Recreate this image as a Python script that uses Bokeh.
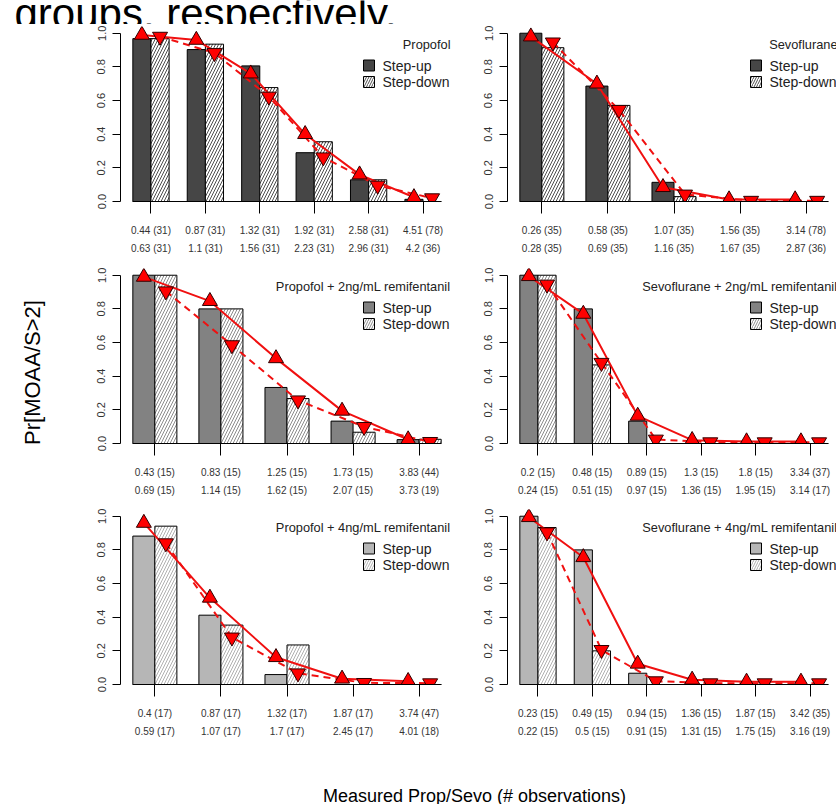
from bokeh.plotting import figure
from bokeh.models import Range1d, FixedTicker, LinearAxis, PrintfTickFormatter
from bokeh.layouts import column, row
from bokeh.embed import file_html
from bokeh.resources import INLINE
from bokeh.core.properties import value

FONT = "Liberation Sans"

# ---------------- data ----------------
panel_titles = ["Propofol", "Sevoflurane",
                "Propofol + 2ng/mL remifentanil", "Sevoflurane + 2ng/mL remifentanil",
                "Propofol + 4ng/mL remifentanil", "Sevoflurane + 4ng/mL remifentanil"]
legend_labels = ["Step-up", "Step-down"]

# Propofol
prop_up_lab = ["0.44 (31)", "0.87 (31)", "1.32 (31)", "1.92 (31)", "2.58 (31)", "4.51 (78)"]
prop_dn_lab = ["0.63 (31)", "1.1 (31)", "1.56 (31)", "2.23 (31)", "2.96 (31)", "4.2 (36)"]
prop_up_obs = [0.968, 0.903, 0.806, 0.290, 0.129, 0.013]
prop_dn_obs = [0.968, 0.935, 0.677, 0.355, 0.129, 0.0]
prop_up_pred = [0.99, 0.96, 0.76, 0.40, 0.16, 0.025]
prop_dn_pred = [0.98, 0.883, 0.624, 0.263, 0.095, 0.02]

# Sevoflurane
sevo_up_lab = ["0.26 (35)", "0.58 (35)", "1.07 (35)", "1.56 (35)", "3.14 (78)"]
sevo_dn_lab = ["0.28 (35)", "0.69 (35)", "1.16 (35)", "1.67 (35)", "2.87 (36)"]
sevo_up_obs = [1.0, 0.686, 0.114, 0.0, 0.0]
sevo_dn_obs = [0.914, 0.571, 0.029, 0.0, 0.0]
sevo_up_pred = [0.98, 0.70, 0.085, 0.012, 0.012]
sevo_dn_pred = [0.946, 0.545, 0.042, 0.005, 0.005]

# Propofol + 2ng/mL remifentanil
prop2_up_lab = ["0.43 (15)", "0.83 (15)", "1.25 (15)", "1.73 (15)", "3.83 (44)"]
prop2_dn_lab = ["0.69 (15)", "1.14 (15)", "1.62 (15)", "2.07 (15)", "3.73 (19)"]
prop2_up_obs = [1.0, 0.8, 0.333, 0.133, 0.023]
prop2_dn_obs = [1.0, 0.8, 0.267, 0.067, 0.025]
prop2_up_pred = [0.99, 0.846, 0.506, 0.194, 0.024]
prop2_dn_pred = [0.905, 0.585, 0.257, 0.099, 0.01]

# Sevoflurane + 2ng/mL remifentanil
sevo2_up_lab = ["0.2 (15)", "0.48 (15)", "0.89 (15)", "1.3 (15)", "1.8 (15)", "3.34 (37)"]
sevo2_dn_lab = ["0.24 (15)", "0.51 (15)", "0.97 (15)", "1.36 (15)", "1.95 (15)", "3.14 (17)"]
sevo2_up_obs = [1.0, 0.8, 0.133, 0.0, 0.0, 0.0]
sevo2_dn_obs = [1.0, 0.467, 0.0, 0.0, 0.0, 0.0]
sevo2_up_pred = [0.994, 0.77, 0.164, 0.02, 0.012, 0.012]
sevo2_dn_pred = [0.945, 0.48, 0.024, 0.008, 0.008, 0.008]

# Propofol + 4ng/mL remifentanil
prop4_up_lab = ["0.4 (17)", "0.87 (17)", "1.32 (17)", "1.87 (17)", "3.74 (47)"]
prop4_dn_lab = ["0.59 (17)", "1.07 (17)", "1.7 (17)", "2.45 (17)", "4.01 (18)"]
prop4_up_obs = [0.882, 0.412, 0.059, 0.0, 0.0]
prop4_dn_obs = [0.941, 0.353, 0.235, 0.0, 0.0]
prop4_up_pred = [0.96, 0.515, 0.162, 0.034, 0.02]
prop4_dn_pred = [0.84, 0.28, 0.067, 0.01, 0.008]

# Sevoflurane + 4ng/mL remifentanil
sevo4_up_lab = ["0.23 (15)", "0.49 (15)", "0.94 (15)", "1.36 (15)", "1.87 (15)", "3.42 (35)"]
sevo4_dn_lab = ["0.22 (15)", "0.5 (15)", "0.91 (15)", "1.31 (15)", "1.75 (15)", "3.16 (19)"]
sevo4_up_obs = [1.0, 0.8, 0.067, 0.0, 0.0, 0.0]
sevo4_dn_obs = [0.933, 0.2, 0.0, 0.0, 0.0, 0.0]
sevo4_up_pred = [0.994, 0.756, 0.123, 0.028, 0.016, 0.016]
sevo4_dn_pred = [0.905, 0.206, 0.02, 0.008, 0.008, 0.008]

y_ticks = [0.0, 0.2, 0.4, 0.6, 0.8, 1.0]
header_text = "groups, respectively."
y_title = "Pr[MOAA/S>2]"
x_title = "Measured Prop/Sevo (# observations)"

# ---------------- geometry / style ----------------
TOTAL_W = 836
YLAB_W = 58
LEFT_W, LEFT_MB = 395, 62
RIGHT_W, RIGHT_MB = TOTAL_W - YLAB_W - 395, 54
FRAME_W_FULL = 333
FRAME_H = 175
Y_TOP = 1.04
ROW_H = [242, 241, 237]
TOP_B = 2
HEADER_H = 24
XLAB_H = 804 - HEADER_H - sum(ROW_H)
up_fill = ["#464646", "#828282", "#b6b6b6"]
hatch_col = ["#4e4e4e", "#8c8c8c", "#b0b0b0"]
RED = "#f01010"


def panel(r, c, title, up_lab, dn_lab, up_obs, dn_obs, up_pred, dn_pred):
    n = len(up_obs)
    x0 = 1 - 0.04 * (3 * n - 1)
    x1 = 3 * n + 0.04 * (3 * n - 1)
    ppu = FRAME_W_FULL / (x1 - x0)
    width = LEFT_W if c == 0 else RIGHT_W
    mb = LEFT_MB if c == 0 else RIGHT_MB
    frame_w = width - mb
    xend = x0 + frame_w / ppu
    h = ROW_H[r]
    p = figure(width=width, height=h, x_range=Range1d(x0, xend), y_range=Range1d(0, Y_TOP),
               output_backend="svg", toolbar_location=None,
               x_axis_location=None, y_axis_location=None,
               min_border_left=mb, min_border_right=0, min_border_top=TOP_B,
               min_border_bottom=h - TOP_B - FRAME_H)
    p.outline_line_color = None
    p.xgrid.visible = False
    p.ygrid.visible = False

    up_x = [3 * i + 1.5 for i in range(n)]
    dn_x = [3 * i + 2.5 for i in range(n)]
    tk = [3 * i + 2 for i in range(n)]

    # axes
    yax = LinearAxis(ticker=FixedTicker(ticks=y_ticks), bounds=(0, 1),
                     formatter=PrintfTickFormatter(format="%.1f"),
                     major_label_orientation="vertical",
                     major_tick_out=8, major_tick_in=0, minor_tick_line_color=None,
                     major_label_standoff=7,
                     major_label_text_font=FONT, major_label_text_font_size="11px",
                     major_label_text_color="#333333",
                     axis_line_color="black", major_tick_line_color="black")
    p.add_layout(yax, "left")
    xax1 = LinearAxis(ticker=FixedTicker(ticks=tk), bounds=(1, 3 * n),
                      major_label_overrides={t: s for t, s in zip(tk, up_lab)},
                      major_tick_out=12, major_tick_in=0, minor_tick_line_color=None,
                      major_label_standoff=11,
                      major_label_text_font=FONT, major_label_text_font_size="10px",
                      major_label_text_color="#333333",
                      axis_line_color="black", major_tick_line_color="black")
    p.add_layout(xax1, "below")
    xax2 = LinearAxis(ticker=FixedTicker(ticks=tk),
                      major_label_overrides={t: s for t, s in zip(tk, dn_lab)},
                      major_tick_out=0, major_tick_in=0, minor_tick_line_color=None,
                      major_label_standoff=4,
                      major_label_text_font=FONT, major_label_text_font_size="10px",
                      major_label_text_color="#333333",
                      axis_line_color=None, major_tick_line_color=None)
    p.add_layout(xax2, "below")

    # bars
    p.vbar(x=up_x, top=up_obs, bottom=0, width=1, fill_color=up_fill[r],
           line_color="black", line_width=1)
    p.vbar(x=dn_x, top=dn_obs, bottom=0, width=1, fill_color="white",
           hatch_pattern="/", hatch_color=hatch_col[r], hatch_scale=6, hatch_weight=1,
           line_color="black", line_width=1)

    # model lines + points
    p.line(up_x, up_pred, line_color=RED, line_width=2)
    p.line(dn_x, dn_pred, line_color=RED, line_width=2, line_dash="7 5")
    p.scatter(up_x, up_pred, marker="triangle", size=15, fill_color="red",
              line_color="#300000", line_width=1)
    p.scatter(dn_x, dn_pred, marker="inverted_triangle", size=15, fill_color="red",
              line_color="#300000", line_width=1)

    # legend (positioned in screen pixels from the frame's top-left)
    ppy = FRAME_H / Y_TOP
    def dx(px):
        return x0 + px / ppu
    def dy(py):
        return Y_TOP - py / ppy
    sq_x = dx(243 + 5.5)
    p.rect(x=[sq_x], y=[dy(39)], width=11, height=11, width_units="screen",
           height_units="screen", fill_color=up_fill[r], line_color="black")
    p.rect(x=[sq_x], y=[dy(55.5)], width=11, height=11, width_units="screen",
           height_units="screen", fill_color="white", hatch_pattern="/",
           hatch_color=hatch_col[r], hatch_scale=5, hatch_weight=1, line_color="black")
    p.text(x=[dx(262), dx(262)], y=[dy(39), dy(55.5)], text=legend_labels,
           text_font=value(FONT), text_font_size="14px", text_color="#222222",
           text_baseline="middle", text_align="left")
    p.text(x=[dx(FRAME_W_FULL - 3)], y=[dy(18)], text=[title],
           text_font=value(FONT), text_font_size="12.8px", text_color="#222222",
           text_baseline="middle", text_align="right")
    return p


data = [
    (panel_titles[0], prop_up_lab, prop_dn_lab, prop_up_obs, prop_dn_obs, prop_up_pred, prop_dn_pred),
    (panel_titles[1], sevo_up_lab, sevo_dn_lab, sevo_up_obs, sevo_dn_obs, sevo_up_pred, sevo_dn_pred),
    (panel_titles[2], prop2_up_lab, prop2_dn_lab, prop2_up_obs, prop2_dn_obs, prop2_up_pred, prop2_dn_pred),
    (panel_titles[3], sevo2_up_lab, sevo2_dn_lab, sevo2_up_obs, sevo2_dn_obs, sevo2_up_pred, sevo2_dn_pred),
    (panel_titles[4], prop4_up_lab, prop4_dn_lab, prop4_up_obs, prop4_dn_obs, prop4_up_pred, prop4_dn_pred),
    (panel_titles[5], sevo4_up_lab, sevo4_dn_lab, sevo4_up_obs, sevo4_dn_obs, sevo4_up_pred, sevo4_dn_pred),
]

panels = [panel(i // 2, i % 2, *d) for i, d in enumerate(data)]


def blank(w, h):
    f = figure(width=w, height=h, x_range=Range1d(0, w), y_range=Range1d(0, h),
               output_backend="svg", toolbar_location=None,
               x_axis_location=None, y_axis_location=None, min_border=0)
    f.outline_line_color = None
    f.xgrid.visible = False
    f.ygrid.visible = False
    return f


header = blank(TOTAL_W, HEADER_H)
header.text(x=[14], y=[HEADER_H - 13], text=[header_text], text_font=value(FONT),
            text_font_size="42px", text_color="black", text_baseline="alphabetic",
            text_align="left")

ylab = blank(YLAB_W, sum(ROW_H))
ylab.text(x=[32], y=[sum(ROW_H) - (372 - HEADER_H)], text=[y_title], text_font=value(FONT),
          text_font_size="22px", text_color="black", angle=1.5707963,
          text_baseline="middle", text_align="center")

xlab = blank(TOTAL_W, XLAB_H)
xlab.text(x=[474], y=[9], text=[x_title], text_font=value(FONT),
          text_font_size="18px", text_color="black", text_baseline="alphabetic",
          text_align="center")

left_col = column(panels[0], panels[2], panels[4], spacing=0)
right_col = column(panels[1], panels[3], panels[5], spacing=0)
layout = column(header, row(ylab, left_col, right_col, spacing=0), xlab, spacing=0)

open("out.html", "w").write(file_html(layout, INLINE))
